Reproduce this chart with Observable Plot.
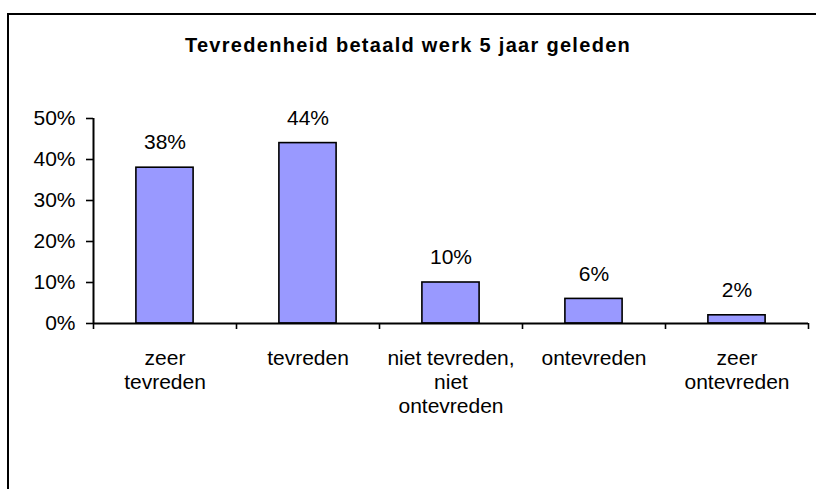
<!DOCTYPE html>
<html>
<head>
<meta charset="utf-8">
<script src="https://cdn.jsdelivr.net/npm/d3@7"></script>
<script src="https://cdn.jsdelivr.net/npm/@observablehq/plot@0.6"></script>
<style>
  html, body { margin: 0; padding: 0; background: #fff; }
  #wrap { position: relative; width: 816px; height: 489px; overflow: hidden; background: #fff; font-family: "Liberation Sans", Arial, sans-serif; }
  #frame { position: absolute; left: 7px; top: 13px; width: 900px; height: 600px; border-top: 2px solid #000; border-left: 2px solid #000; }
  #title { position: absolute; left: 0; top: 34px; width: 816px; text-align: center; font-weight: bold; font-size: 20px; letter-spacing: 1.3px; color: #000; }
  #chart { position: absolute; left: 0; top: 70px; }
</style>
</head>
<body>
<div id="wrap">
  <div id="frame"></div>
  <div id="title">Tevredenheid betaald werk 5 jaar geleden</div>
  <div id="chart"></div>
</div>
<script>
const categories = ["zeer\ntevreden", "tevreden", "niet tevreden,\nniet\nontevreden", "ontevreden", "zeer\nontevreden"];
const values = [0.38, 0.44, 0.10, 0.06, 0.02];
const yTicks = [0, 0.1, 0.2, 0.3, 0.4, 0.5];

const data = categories.map((c, i) => ({category: c, index: i, value: values[i]}));
const boundaries = d3.range(categories.length + 1);
const pct = d3.format(".0%");

const chart = Plot.plot({
  width: 816,
  height: 419,
  marginTop: 48,
  marginBottom: 166,
  marginLeft: 93,
  marginRight: 8,
  style: {fontFamily: "'Liberation Sans', Arial, sans-serif", fontSize: "21px", color: "#000", background: "transparent"},
  x: {type: "linear", domain: [0, categories.length], axis: null},
  y: {domain: [0, 0.5], axis: null},
  marks: [
    Plot.rectY(data, {x1: d => d.index + 0.3, x2: d => d.index + 0.7, y: "value", fill: "#9999FF", stroke: "#000", strokeWidth: 1.6}),
    Plot.axisY({ticks: yTicks, tickFormat: pct, tickSize: 7, tickPadding: 11, fontSize: 21, strokeWidth: 1.6, label: null}),
    Plot.ruleX([0], {y1: 0, y2: 0.5, strokeWidth: 2}),
    Plot.ruleY([0], {x1: 0, x2: categories.length, strokeWidth: 2}),
    Plot.axisX({ticks: boundaries, tickFormat: () => "", tickSize: 6, strokeWidth: 1.6, label: null}),
    Plot.text(data, {x: d => d.index + 0.5, y: "value", text: d => pct(d.value), dy: -25, lineAnchor: "middle", fontSize: 21}),
    Plot.text(data, {x: d => d.index + 0.5, y: 0, text: "category", lineAnchor: "top", dy: 24, fontSize: 21, lineHeight: 1.15})
  ]
});
document.getElementById("chart").appendChild(chart);
</script>
</body>
</html>
